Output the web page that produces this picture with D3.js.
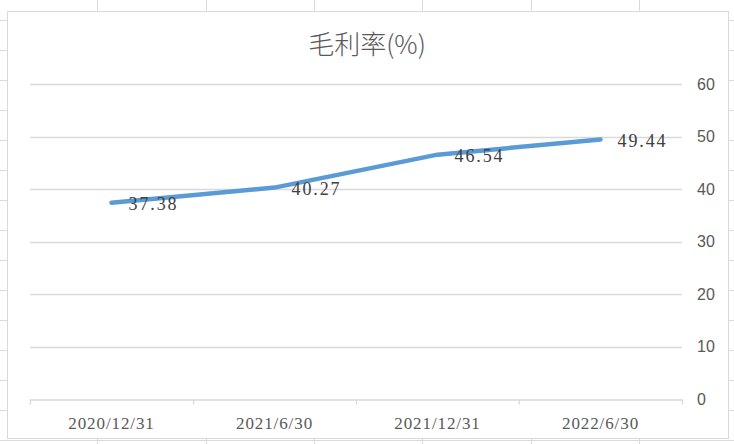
<!DOCTYPE html>
<html>
<head>
<meta charset="utf-8" />
<script src="https://d3js.org/d3.v7.min.js"></script>
<style>
  body { margin: 0; background: #fff; }
</style>
</head>
<body>
<div id="chart"></div>
<script>
// chart data
var categories = ["2020/12/31", "2021/6/30", "2021/12/31", "2022/6/30"];
var values = [37.38, 40.27, 46.54, 49.44];
var yTicks = [0, 10, 20, 30, 40, 50, 60];
var title = "毛利率(%)";

var W = 734, H = 444;
var svg = d3.select("#chart").append("svg")
  .attr("width", W)
  .attr("height", H);

// spreadsheet cells behind the chart
var gridColor = "#dadada";
var cols = d3.range(-11, W, 108.3);
var rows = d3.range(20.5, H, 30);
svg.append("g").selectAll("line.c").data(cols).enter().append("line")
  .attr("x1", function(d) { return Math.round(d) + 0.5; })
  .attr("x2", function(d) { return Math.round(d) + 0.5; })
  .attr("y1", 0).attr("y2", H)
  .attr("stroke", gridColor);
svg.append("g").selectAll("line.r").data(rows).enter().append("line")
  .attr("x1", 0).attr("x2", W)
  .attr("y1", function(d) { return d; })
  .attr("y2", function(d) { return d; })
  .attr("stroke", gridColor);

// chart box
svg.append("rect")
  .attr("x", 7.5).attr("y", 11.5)
  .attr("width", 721).attr("height", 427)
  .attr("fill", "#fff")
  .attr("stroke", "#d9d9d9");

var left = 30, right = 682;
var x = d3.scalePoint().domain(categories).range([left, right]).padding(0.5);
var xb = d3.scaleBand().domain(categories).range([left, right]);
var y = d3.scaleLinear().domain([0, 60]).range([399, 84]);

// horizontal gridlines
svg.append("g").selectAll("line").data(yTicks.slice(1)).enter().append("line")
  .attr("x1", left).attr("x2", right)
  .attr("y1", function(d) { return Math.round(y(d)) + 0.5; })
  .attr("y2", function(d) { return Math.round(y(d)) + 0.5; })
  .attr("stroke", "#d9d9d9")
  .attr("stroke-width", 1.3);

// x axis
var xAxis = svg.append("g")
  .attr("transform", "translate(0," + (Math.round(y(0)) + 0.5) + ")")
  .call(d3.axisBottom(xb).tickSize(0).tickPadding(17));
xAxis.select(".domain").attr("stroke", "#d9d9d9").attr("stroke-width", 1.3);
xAxis.selectAll("text")
  .attr("fill", "#595959")
  .style("font-family", "'Liberation Serif', serif")
  .style("font-size", "17px")
  .style("letter-spacing", "0.9px");
var bounds = categories.map(function(c) { return xb(c); }).concat([right]);
xAxis.selectAll("line.tk").data(bounds).enter().append("line")
  .attr("class", "tk")
  .attr("x1", function(d) { return Math.round(d) + 0.5; })
  .attr("x2", function(d) { return Math.round(d) + 0.5; })
  .attr("y1", 0).attr("y2", 5)
  .attr("stroke", "#d9d9d9")
  .attr("stroke-width", 1.3);

// y axis on the right
var yAxis = svg.append("g")
  .attr("transform", "translate(" + right + ",0)")
  .call(d3.axisRight(y).tickValues(yTicks).tickSize(0).tickPadding(15));
yAxis.select(".domain").remove();
yAxis.selectAll("text")
  .attr("fill", "#595959")
  .style("font-family", "'Liberation Sans', sans-serif")
  .style("font-size", "16px");

// title
svg.append("text")
  .attr("x", 367).attr("y", 54)
  .attr("text-anchor", "middle")
  .attr("fill", "#595959")
  .style("font-family", "'Noto Sans CJK SC', sans-serif")
  .style("font-weight", 300)
  .style("font-size", "26px")
  .text(title);

// line
var pts = categories.map(function(c, i) { return [x(c), y(values[i])]; });
svg.append("path")
  .datum(pts)
  .attr("d", d3.line())
  .attr("fill", "none")
  .attr("stroke", "#5b9bd5")
  .attr("stroke-width", 4.5)
  .attr("stroke-linecap", "round")
  .attr("stroke-linejoin", "round");

// data labels
svg.append("g").selectAll("text").data(values).enter().append("text")
  .attr("x", function(d, i) { return x(categories[i]) + 17; })
  .attr("y", function(d) { return y(d) + 1; })
  .attr("dy", "0.35em")
  .attr("fill", "#404040")
  .style("font-family", "'Liberation Serif', serif")
  .style("font-size", "18px")
  .style("letter-spacing", "1.9px")
  .text(function(d) { return d.toFixed(2); });
</script>
</body>
</html>
